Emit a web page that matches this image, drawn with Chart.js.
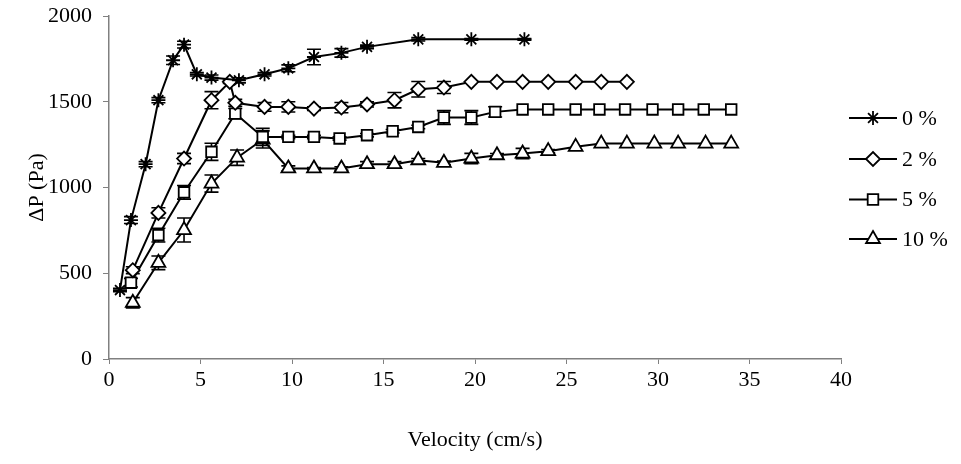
<!DOCTYPE html>
<html>
<head>
<meta charset="utf-8">
<script src="https://cdn.jsdelivr.net/npm/chart.js@4.4.1/dist/chart.umd.min.js"></script>
<style>
html,body{margin:0;padding:0;background:#fff;}
#wrap{position:relative;width:961px;height:464px;}
</style>
</head>
<body>
<div id="wrap"><canvas id="c" width="961" height="464"></canvas></div>
<script>
// ---- data ----
const seriesLabels = ["0 %", "2 %", "5 %", "10 %"];
const xTickLabels = [0, 5, 10, 15, 20, 25, 30, 35, 40];
const yTickLabels = [0, 500, 1000, 1500, 2000];

const velocity0 = [0.6, 1.2, 2.0, 2.7, 3.5, 4.1, 4.8, 5.6, 7.1, 8.5, 9.8, 11.2, 12.7, 14.1, 16.9, 19.8, 22.7];
const dp0       = [402, 810, 1136, 1509, 1742, 1833, 1660, 1641, 1625, 1660, 1695, 1761, 1785, 1820, 1864, 1864, 1864];
const err0      = [10, 20, 15, 15, 25, 20, 10, 15, 15, 10, 20, 45, 25, 10, 10, 5, 5];

const velocity2 = [1.3, 2.7, 4.1, 5.6, 6.6, 6.9, 8.5, 9.8, 11.2, 12.7, 14.1, 15.6, 16.9, 18.3, 19.8, 21.2, 22.6, 24.0, 25.5, 26.9, 28.3];
const dp2       = [518, 852, 1169, 1509, 1616, 1494, 1470, 1470, 1460, 1466, 1484, 1509, 1573, 1583, 1616, 1616, 1616, 1616, 1616, 1616, 1616];
const err2      = [20, 30, 30, 50, 10, 20, 25, 30, 10, 30, 15, 45, 45, 35, 0, 0, 0, 0, 0, 0, 0];

const velocity5 = [1.2, 2.7, 4.1, 5.6, 6.9, 8.4, 9.8, 11.2, 12.6, 14.1, 15.5, 16.9, 18.3, 19.8, 21.1, 22.6, 24.0, 25.5, 26.8, 28.2, 29.7, 31.1, 32.5, 34.0];
const dp5       = [445, 722, 972, 1208, 1431, 1295, 1295, 1295, 1286, 1305, 1328, 1353, 1408, 1408, 1441, 1455, 1455, 1455, 1455, 1455, 1455, 1455, 1455, 1455];
const err5      = [25, 40, 40, 50, 30, 50, 10, 10, 10, 10, 10, 10, 40, 40, 30, 0, 0, 0, 0, 0, 0, 0, 0, 0];

const velocity10 = [1.3, 2.7, 4.1, 5.6, 7.0, 8.4, 9.8, 11.2, 12.7, 14.1, 15.6, 16.9, 18.3, 19.8, 21.2, 22.6, 24.0, 25.5, 26.9, 28.3, 29.8, 31.1, 32.6, 34.0];
const dp10       = [328, 561, 752, 1023, 1174, 1280, 1111, 1111, 1111, 1136, 1136, 1159, 1144, 1169, 1188, 1198, 1212, 1237, 1256, 1256, 1256, 1256, 1256, 1256];
const err10      = [30, 40, 70, 50, 45, 50, 15, 5, 10, 15, 15, 10, 10, 30, 10, 30, 10, 0, 0, 0, 0, 0, 0, 0];

const markerStyles = ["star", "rectRot", "rect", "triangle"];
const markerRadii  = [7, 7, 7.5, 8];

const FONT = "'Liberation Serif', 'Times New Roman', serif";

function pts(xs, ys) { return xs.map((x, i) => ({x: x, y: ys[i]})); }

const allX = [velocity0, velocity2, velocity5, velocity10];
const allY = [dp0, dp2, dp5, dp10];
const allE = [err0, err2, err5, err10];

const datasets = allX.map((xs, k) => ({
  label: seriesLabels[k],
  data: pts(xs, allY[k]),
  errors: allE[k],
  showLine: true,
  borderColor: '#000',
  borderWidth: 2,
  backgroundColor: '#fff',
  pointStyle: markerStyles[k],
  pointRadius: markerRadii[k],
  pointHoverRadius: markerRadii[k],
  pointBorderColor: '#000',
  pointBackgroundColor: '#fff',
  pointBorderWidth: 1.8,
  tension: 0,
  clip: false
}));

const errorBars = {
  id: 'errorBars',
  beforeDatasetsDraw(chart) {
    const ctx = chart.ctx, xs = chart.scales.x, ys = chart.scales.y;
    ctx.save();
    ctx.strokeStyle = '#000';
    ctx.lineWidth = 1.6;
    chart.data.datasets.forEach(ds => {
      ds.data.forEach((p, i) => {
        const e = ds.errors[i];
        if (!e) return;
        const px = xs.getPixelForValue(p.x);
        const top = ys.getPixelForValue(p.y + e);
        const bot = ys.getPixelForValue(p.y - e);
        ctx.beginPath();
        ctx.moveTo(px, top); ctx.lineTo(px, bot);
        ctx.moveTo(px - 7, top); ctx.lineTo(px + 7, top);
        ctx.moveTo(px - 7, bot); ctx.lineTo(px + 7, bot);
        ctx.stroke();
      });
    });
    ctx.restore();
  }
};

const customLegend = {
  id: 'customLegend',
  afterDraw(chart) {
    const ctx = chart.ctx;
    const rows = [118, 159, 199.5, 239];
    ctx.save();
    chart.data.datasets.forEach((ds, k) => {
      const y = rows[k];
      ctx.strokeStyle = '#000';
      ctx.lineWidth = 2;
      ctx.beginPath();
      ctx.moveTo(849, y); ctx.lineTo(897, y);
      ctx.stroke();
      ctx.fillStyle = '#fff';
      ctx.lineWidth = 1.8;
      Chart.helpers.drawPoint(ctx, {pointStyle: ds.pointStyle, radius: ds.pointRadius, rotation: 0, borderWidth: 1.8}, 873, y);
      ctx.fillStyle = '#000';
      ctx.font = "22px " + FONT;
      ctx.textBaseline = 'middle';
      ctx.textAlign = 'left';
      ctx.fillText(ds.label, 902, y + 1);
    });
    ctx.restore();
  }
};

new Chart(document.getElementById('c'), {
  type: 'scatter',
  data: { datasets: datasets },
  plugins: [errorBars, customLegend],
  options: {
    responsive: false,
    animation: false,
    events: [],
    layout: { padding: { left: 0, top: 16, right: 120, bottom: 0 } },
    plugins: { legend: { display: false }, tooltip: { enabled: false } },
    scales: {
      x: {
        type: 'linear', min: 0, max: 40,
        afterBuildTicks(scale) { scale.ticks = xTickLabels.map(v => ({value: v})); },
        afterFit(scale) { scale.height = 105; },
        grid: { display: true, drawOnChartArea: false, drawTicks: true, tickLength: 5, color: '#808080', lineWidth: 1 },
        border: { color: '#808080', width: 1.5 },
        ticks: { color: '#000', font: { family: FONT, size: 22 }, padding: 3, maxRotation: 0, callback: v => String(v) },
        title: { display: true, text: 'Velocity (cm/s)', color: '#000', font: { family: FONT, size: 22 }, padding: { top: 0, bottom: 11 } }
      },
      y: {
        type: 'linear', min: 0, max: 2000,
        afterBuildTicks(scale) { scale.ticks = yTickLabels.map(v => ({value: v})); },
        afterFit(scale) { scale.width = 109; scale.paddingTop = 0; scale.paddingBottom = 0; },
        grid: { display: true, drawOnChartArea: false, drawTicks: true, tickLength: 6, color: '#808080', lineWidth: 1 },
        border: { color: '#808080', width: 1.5 },
        ticks: { color: '#000', font: { family: FONT, size: 22 }, padding: 11, callback: v => String(v) },
        title: { display: true, text: 'ΔP (Pa)', color: '#000', font: { family: FONT, size: 22 }, padding: { top: 24, bottom: 0 } }
      }
    }
  }
});
</script>
</body>
</html>
